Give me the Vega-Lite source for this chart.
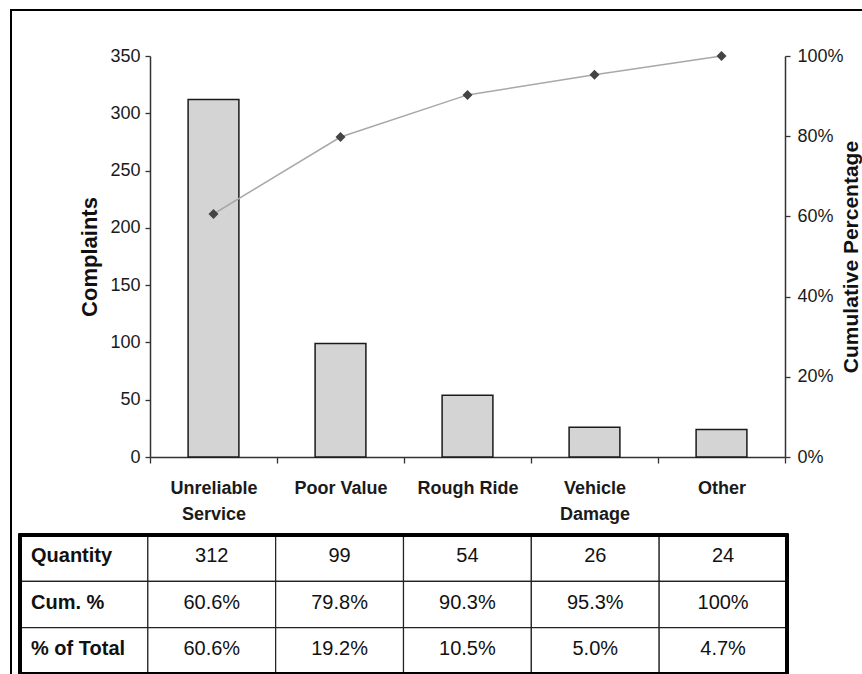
{
  "$schema": "https://vega.github.io/schema/vega-lite/v6.json",
  "autosize": {"type": "none"},
  "padding": {"left": 11, "top": 10, "right": -10, "bottom": -10},
  "width": 861,
  "height": 674,
  "config": {
    "font": "Liberation Sans",
    "view": {"stroke": "#000000", "strokeWidth": 2},
    "axis": {
      "grid": false,
      "domainColor": "#333333",
      "domainWidth": 1.5,
      "tickColor": "#333333",
      "tickWidth": 1.3,
      "labelColor": "#1a1a1a",
      "titleColor": "#111111",
      "labelFont": "Liberation Sans",
      "titleFont": "Liberation Sans"
    }
  },
  "datasets": {
    "main": [
      {"cat": "Unreliable Service", "complaints": 312, "cum": 0.606},
      {"cat": "Poor Value", "complaints": 99, "cum": 0.798},
      {"cat": "Rough Ride", "complaints": 54, "cum": 0.903},
      {"cat": "Vehicle Damage", "complaints": 26, "cum": 0.953},
      {"cat": "Other", "complaints": 24, "cum": 1.0}
    ],
    "table": [
      {"col": "label", "row": "Quantity", "text": "Quantity"},
      {"col": "Unreliable Service", "row": "Quantity", "text": "312"},
      {"col": "Poor Value", "row": "Quantity", "text": "99"},
      {"col": "Rough Ride", "row": "Quantity", "text": "54"},
      {"col": "Vehicle Damage", "row": "Quantity", "text": "26"},
      {"col": "Other", "row": "Quantity", "text": "24"},
      {"col": "label", "row": "Cum. %", "text": "Cum. %"},
      {"col": "Unreliable Service", "row": "Cum. %", "text": "60.6%"},
      {"col": "Poor Value", "row": "Cum. %", "text": "79.8%"},
      {"col": "Rough Ride", "row": "Cum. %", "text": "90.3%"},
      {"col": "Vehicle Damage", "row": "Cum. %", "text": "95.3%"},
      {"col": "Other", "row": "Cum. %", "text": "100%"},
      {"col": "label", "row": "% of Total", "text": "% of Total"},
      {"col": "Unreliable Service", "row": "% of Total", "text": "60.6%"},
      {"col": "Poor Value", "row": "% of Total", "text": "19.2%"},
      {"col": "Rough Ride", "row": "% of Total", "text": "10.5%"},
      {"col": "Vehicle Damage", "row": "% of Total", "text": "5.0%"},
      {"col": "Other", "row": "% of Total", "text": "4.7%"}
    ]
  },
  "layer": [
    {
      "data": {"name": "main"},
      "mark": {"type": "bar", "fill": "#d4d4d4", "stroke": "#1a1a1a", "strokeWidth": 1.5, "width": {"band": 0.4}},
      "encoding": {
        "x": {
          "field": "cat", "type": "nominal", "sort": null,
          "scale": {"range": [139, 774], "paddingInner": 0, "paddingOuter": 0},
          "axis": {
            "title": null, "orient": "bottom", "offset": -227, "tickBand": "extent",
            "tickSize": 6, "labelAngle": 0, "labelFontSize": 18, "labelFontWeight": "bold",
            "labelPadding": 16, "labelLineHeight": 26,
            "labelExpr": "datum.label == 'Unreliable Service' ? ['Unreliable', 'Service'] : datum.label == 'Vehicle Damage' ? ['Vehicle', 'Damage'] : datum.label"
          }
        },
        "y": {
          "field": "complaints", "type": "quantitative",
          "scale": {"domain": [0, 350], "range": [447, 46], "nice": false, "zero": true},
          "axis": {
            "title": "Complaints", "orient": "left", "offset": -139,
            "values": [0, 50, 100, 150, 200, 250, 300, 350],
            "tickSize": 5, "labelPadding": 5, "labelFontSize": 18, "labelFlush": false,
            "labelOverlap": false,
            "titleFontSize": 22, "titleFontWeight": "bold", "titlePadding": 8
          }
        }
      }
    },
    {
      "data": {"name": "main"},
      "mark": {
        "type": "line", "color": "#a8a8a8", "strokeWidth": 1.5,
        "point": {"shape": "diamond", "filled": true, "color": "#444444", "size": 100}
      },
      "encoding": {
        "x": {
          "field": "cat", "type": "nominal", "sort": null,
          "scale": {"range": [139, 774], "paddingInner": 0, "paddingOuter": 0},
          "axis": null
        },
        "y": {
          "field": "cum", "type": "quantitative",
          "scale": {"domain": [0, 1], "range": [447, 46], "nice": false},
          "axis": {
            "title": "Cumulative Percentage", "orient": "right", "offset": -87,
            "values": [0, 0.2, 0.4, 0.6, 0.8, 1], "format": ".0%",
            "tickSize": 5, "labelPadding": 7, "labelFontSize": 18, "labelFlush": false,
            "labelOverlap": false,
            "titleFontSize": 21, "titleFontWeight": "bold", "titleAngle": 270, "titlePadding": 18
          }
        }
      }
    },
    {
      "data": {"name": "table"},
      "encoding": {
        "x": {
          "field": "col", "type": "nominal",
          "scale": {
            "domain": ["label", "Unreliable Service", "Poor Value", "Rough Ride", "Vehicle Damage", "Other"],
            "range": [9, 776], "paddingInner": 0, "paddingOuter": 0
          },
          "axis": null
        },
        "y": {
          "field": "row", "type": "nominal",
          "scale": {
            "domain": ["Quantity", "Cum. %", "% of Total"],
            "range": [525, 664], "paddingInner": 0, "paddingOuter": 0
          },
          "axis": null
        }
      },
      "layer": [
        {
          "mark": {"type": "rect", "fill": "#ffffff", "stroke": "#222222", "strokeWidth": 1.2}
        },
        {
          "mark": {"type": "rect", "fill": null, "filled": false, "stroke": "#000000", "strokeWidth": 2.5},
          "encoding": {
            "x": {"datum": "label", "type": "nominal", "bandPosition": 0},
            "x2": {"datum": "Other", "bandPosition": 1},
            "y": {"datum": "Quantity", "type": "nominal", "bandPosition": 0},
            "y2": {"datum": "% of Total", "bandPosition": 1}
          }
        },
        {
          "transform": [{"filter": "datum.col == 'label'"}],
          "mark": {"type": "text", "align": "left", "baseline": "middle", "dx": 11, "dy": -2, "fontSize": 20, "fontWeight": "bold", "color": "#111111"},
          "encoding": {
            "x": {"field": "col", "type": "nominal", "bandPosition": 0},
            "text": {"field": "text"}
          }
        },
        {
          "transform": [{"filter": "datum.col != 'label'"}],
          "mark": {"type": "text", "align": "center", "baseline": "middle", "dy": -2, "fontSize": 20, "color": "#111111"},
          "encoding": {
            "text": {"field": "text"}
          }
        }
      ]
    }
  ],
  "resolve": {
    "scale": {"x": "independent", "y": "independent"},
    "axis": {"x": "independent", "y": "independent"}
  }
}
